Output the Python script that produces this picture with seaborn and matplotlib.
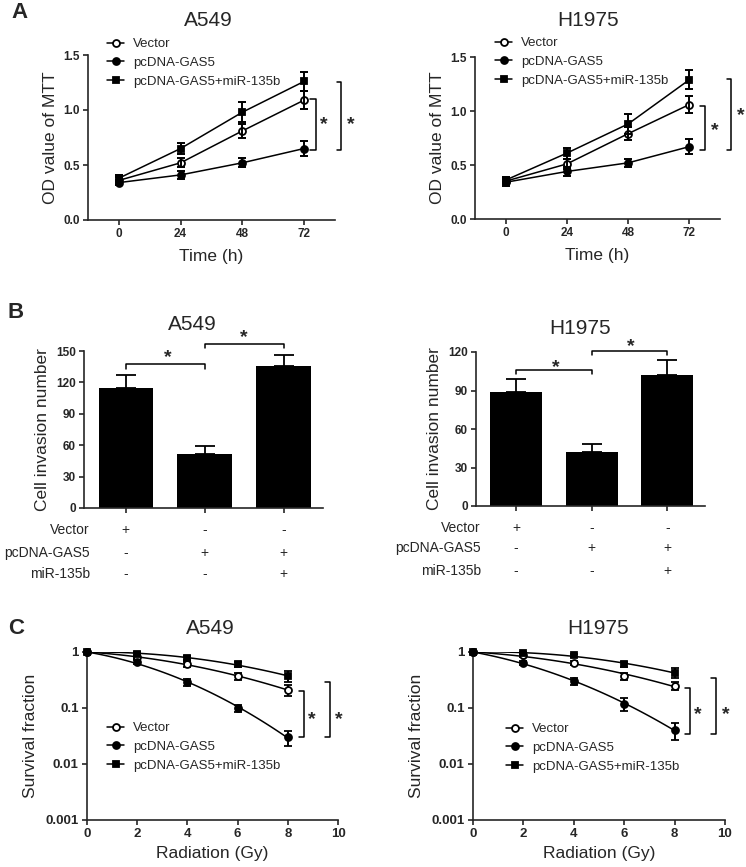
import numpy as np
import matplotlib
matplotlib.use('Agg')
import matplotlib.pyplot as plt
from matplotlib.lines import Line2D
import seaborn as sns

sns.set_style('ticks')
plt.rcParams['font.family'] = ['Liberation Sans', 'DejaVu Sans']
plt.rcParams['axes.linewidth'] = 1.2

W, H = 746, 867

# series names and marker styles
series = ['Vector', 'pcDNA-GAS5', 'pcDNA-GAS5+miR-135b']
markers = ['o', 'o', 's']
faces = ['white', 'black', 'black']

# A: MTT assay
time_h = [0, 24, 48, 72]
a549_mtt_vec = [0.36, 0.52, 0.81, 1.09]
a549_mtt_vec_err = [0.03, 0.04, 0.06, 0.08]
a549_mtt_gas5 = [0.34, 0.41, 0.52, 0.65]
a549_mtt_gas5_err = [0.02, 0.04, 0.04, 0.07]
a549_mtt_mir = [0.38, 0.65, 0.98, 1.26]
a549_mtt_mir_err = [0.03, 0.05, 0.09, 0.09]
h1975_mtt_vec = [0.35, 0.51, 0.79, 1.06]
h1975_mtt_vec_err = [0.03, 0.05, 0.06, 0.08]
h1975_mtt_gas5 = [0.34, 0.44, 0.52, 0.67]
h1975_mtt_gas5_err = [0.03, 0.04, 0.04, 0.07]
h1975_mtt_mir = [0.36, 0.61, 0.88, 1.29]
h1975_mtt_mir_err = [0.03, 0.05, 0.09, 0.09]

# B: invasion
groups = ['Vector', 'pcDNA-GAS5', 'pcDNA-GAS5+miR-135b']
a549_inv = [115, 52, 136]
a549_inv_err = [12, 7, 10]
h1975_inv = [89, 42, 102]
h1975_inv_err = [10, 6, 12]
row_labels = ['Vector', 'pcDNA-GAS5', 'miR-135b']
row_signs = [['+', '-', '-'], ['-', '+', '+'], ['-', '-', '+']]

# C: survival
dose_gy = [0, 2, 4, 6, 8]
a549_sf_vec = [1.0, 0.81, 0.60, 0.37, 0.21]
a549_sf_vec_err = [0.0, 0.05, 0.06, 0.05, 0.045]
a549_sf_gas5 = [1.0, 0.66, 0.29, 0.10, 0.030]
a549_sf_gas5_err = [0.0, 0.05, 0.04, 0.015, 0.009]
a549_sf_mir = [1.0, 0.93, 0.79, 0.60, 0.37]
a549_sf_mir_err = [0.0, 0.05, 0.07, 0.07, 0.08]
h1975_sf_vec = [1.0, 0.87, 0.64, 0.37, 0.25]
h1975_sf_vec_err = [0.0, 0.05, 0.05, 0.05, 0.04]
h1975_sf_gas5 = [1.0, 0.64, 0.30, 0.12, 0.040]
h1975_sf_gas5_err = [0.0, 0.05, 0.04, 0.03, 0.013]
h1975_sf_mir = [1.0, 0.97, 0.87, 0.60, 0.43]
h1975_sf_mir_err = [0.0, 0.05, 0.06, 0.07, 0.08]


def px_box(x0, y0, x1, y1):
    return [x0 / W, 1 - y1 / H, (x1 - x0) / W, (y1 - y0) / H]


def bold_ticks(ax, size):
    ax.tick_params(labelsize=size, width=1.2, length=3.5, pad=2.5)
    for lab in ax.get_xticklabels() + ax.get_yticklabels():
        lab.set_fontweight('bold')


def side_bracket(ax, x_leg, x_spine, y_top, y_bot, star_x, star_y):
    # vertical bracket on the right of the curves
    ax.plot([x_leg, x_spine, x_spine, x_leg], [y_top, y_top, y_bot, y_bot],
            color='black', lw=1.1, clip_on=False)
    ax.text(star_x, star_y, '*', ha='center', va='center', fontsize=14, fontweight='bold')


def top_bracket(ax, x0, x1, y_leg, y_top, star_x, star_y):
    # horizontal bracket above two bars
    ax.plot([x0, x0, x1, x1], [y_leg, y_top, y_top, y_leg],
            color='black', lw=1.1, clip_on=False)
    ax.text(star_x, star_y, '*', ha='center', va='center', fontsize=14, fontweight='bold')


def legend(ax, x, y):
    hs = [Line2D([], [], color='black', lw=1.1, marker=m, ms=5, mfc=f, mec='black', mew=1.3)
          for m, f in zip(markers, faces)]
    ax.legend(handles=hs, labels=series, loc='upper left', frameon=False,
              fontsize=9.5, handlelength=1.3, handletextpad=0.7, labelspacing=0.5,
              borderpad=0, borderaxespad=0, bbox_to_anchor=(x / W, 1 - y / H),
              bbox_transform=fig.transFigure)


fig = plt.figure(figsize=(W / 100, H / 100), dpi=100)


def mtt_panel(box, vals, errs, brackets, leg_xy):
    ax = fig.add_axes(px_box(*box))
    for y, e, m, f in zip(vals, errs, markers, faces):
        sns.lineplot(x=time_h, y=y, ax=ax, color='black', lw=1.1, marker=m, markersize=5,
                     markerfacecolor=f, markeredgecolor='black', markeredgewidth=1.3,
                     errorbar=None)
        ax.errorbar(time_h, y, yerr=e, fmt='none', ecolor='black', elinewidth=1.4,
                    capsize=3, capthick=1.4)
    ax.set_xlim(-12, 84)
    ax.set_ylim(0, 1.5)
    ax.set_xticks(time_h)
    ax.set_yticks([0, 0.5, 1.0, 1.5], labels=['0.0', '0.5', '1.0', '1.5'])
    ax.set_xlabel('Time (h)', fontsize=12.5, labelpad=6)
    ax.set_ylabel('OD value of MTT', fontsize=12.5, labelpad=4)
    bold_ticks(ax, 8.5)
    for b in brackets:
        side_bracket(ax, *b)
    legend(ax, *leg_xy)
    sns.despine(ax=ax)
    return ax


def invasion_panel(box, vals, errs, ymax, brackets, row_ys, label_x):
    ax = fig.add_axes(px_box(*box))
    sns.barplot(x=groups, y=vals, color='black', saturation=1, width=0.69,
                errorbar=None, linewidth=0, edgecolor='black', ax=ax)
    ax.errorbar(range(len(groups)), vals, yerr=[[0] * len(vals), errs], fmt='none',
                ecolor='black', elinewidth=1.3, capsize=7.5, capthick=1.3)
    ax.set_xlim(-0.53, 2.5)
    ax.set_ylim(0, ymax)
    ax.set_yticks(np.arange(0, ymax + 1, 30))
    ax.set_xticks(range(len(groups)), labels=[''] * len(groups))
    ax.set_xlabel('')
    ax.set_ylabel('Cell invasion number', fontsize=12.5, labelpad=4)
    bold_ticks(ax, 8.5)
    for b in brackets:
        top_bracket(ax, *b)
    for lab, signs, ry in zip(row_labels, row_signs, row_ys):
        ax.text(label_x, ry, lab, transform=ax.transAxes, ha='right', va='center', fontsize=10)
        for i, s in enumerate(signs):
            ax.text(i, ry, s, transform=ax.get_xaxis_transform(), ha='center', va='center',
                    fontsize=10)
    sns.despine(ax=ax)
    return ax


def lq_fit(d, s):
    # linear-quadratic survival fit: -ln S = a*D + b*D^2
    d = np.asarray(d, float)
    A = np.column_stack([d, d ** 2])
    coef, *_ = np.linalg.lstsq(A, -np.log(np.asarray(s, float)), rcond=None)
    return coef


def survival_panel(box, vals, errs, brackets, leg_xy):
    ax = fig.add_axes(px_box(*box))
    for y, e, m, f in zip(vals, errs, markers, faces):
        a, b = lq_fit(dose_gy, y)
        dd = np.linspace(dose_gy[0], dose_gy[-1], 80)
        sns.lineplot(x=dd, y=np.exp(-(a * dd + b * dd ** 2)), ax=ax, color='black',
                     lw=1.1, errorbar=None)
        ax.errorbar(dose_gy, y, yerr=e, fmt=m, ms=5, mfc=f, mec='black', mew=1.3,
                    ecolor='black', elinewidth=1.4, capsize=3, capthick=1.4, clip_on=False,
                    zorder=3)
    ax.set_yscale('log')
    ax.set_xlim(0, 10)
    ax.set_ylim(0.001, 1)
    ax.set_xticks([0, 2, 4, 6, 8, 10])
    ax.set_yticks([0.001, 0.01, 0.1, 1], labels=['0.001', '0.01', '0.1', '1'])
    ax.minorticks_off()
    ax.set_xlabel('Radiation (Gy)', fontsize=12.5, labelpad=4)
    ax.set_ylabel('Survival fraction', fontsize=12.5, labelpad=5)
    bold_ticks(ax, 9.5)
    for b in brackets:
        side_bracket(ax, *b)
    legend(ax, *leg_xy)
    sns.despine(ax=ax)
    return ax


mtt_panel((88, 55, 335, 220),
          [a549_mtt_vec, a549_mtt_gas5, a549_mtt_mir],
          [a549_mtt_vec_err, a549_mtt_gas5_err, a549_mtt_mir_err],
          [(74.4, 76.7, 1.10, 0.64, 79.7, 0.865), (84.8, 86.2, 1.255, 0.64, 90.1, 0.865)],
          (107, 38))
mtt_panel((475, 57, 720, 219),
          [h1975_mtt_vec, h1975_mtt_gas5, h1975_mtt_mir],
          [h1975_mtt_vec_err, h1975_mtt_gas5_err, h1975_mtt_mir_err],
          [(76.3, 78.3, 1.05, 0.64, 81.8, 0.82), (86.9, 88.5, 1.30, 0.64, 92.0, 0.955)],
          (495, 37))

invasion_panel((84, 351, 323, 508), a549_inv, a549_inv_err, 150,
               [(0, 1, 133, 138, 0.53, 144), (1, 2, 153, 157, 1.5, 163)],
               [-0.14, -0.287, -0.42], 0.025)
invasion_panel((476, 352, 705, 506), h1975_inv, h1975_inv_err, 120,
               [(0, 1, 103, 106, 0.52, 108), (1, 2, 117.4, 121, 1.52, 124)],
               [-0.143, -0.273, -0.422], 0.022)

survival_panel((87, 652, 338, 820),
               [a549_sf_vec, a549_sf_gas5, a549_sf_mir],
               [a549_sf_vec_err, a549_sf_gas5_err, a549_sf_mir_err],
               [(8.45, 8.65, 0.2, 0.03, 8.96, 0.061), (9.48, 9.68, 0.29, 0.03, 10.04, 0.061)],
               (107, 722))
survival_panel((473, 652, 725, 820),
               [h1975_sf_vec, h1975_sf_gas5, h1975_sf_mir],
               [h1975_sf_vec_err, h1975_sf_gas5_err, h1975_sf_mir_err],
               [(8.4, 8.61, 0.23, 0.034, 8.93, 0.075), (9.44, 9.64, 0.35, 0.034, 10.04, 0.075)],
               (506, 723))


def ftext(x, y, s, **kw):
    fig.text(x / W, 1 - y / H, s, ha='center', va='center', **kw)


for x, y, s in [(208, 20, 'A549'), (588, 21, 'H1975'), (192, 325, 'A549'),
                (580, 328, 'H1975'), (210, 628, 'A549'), (598, 628, 'H1975')]:
    ftext(x, y, s, fontsize=15)
for x, y, s in [(19, 13, 'A'), (16, 313, 'B'), (16, 629, 'C')]:
    ftext(x, y, s, fontsize=16, fontweight='bold')

fig.savefig('out.png', dpi=100)
